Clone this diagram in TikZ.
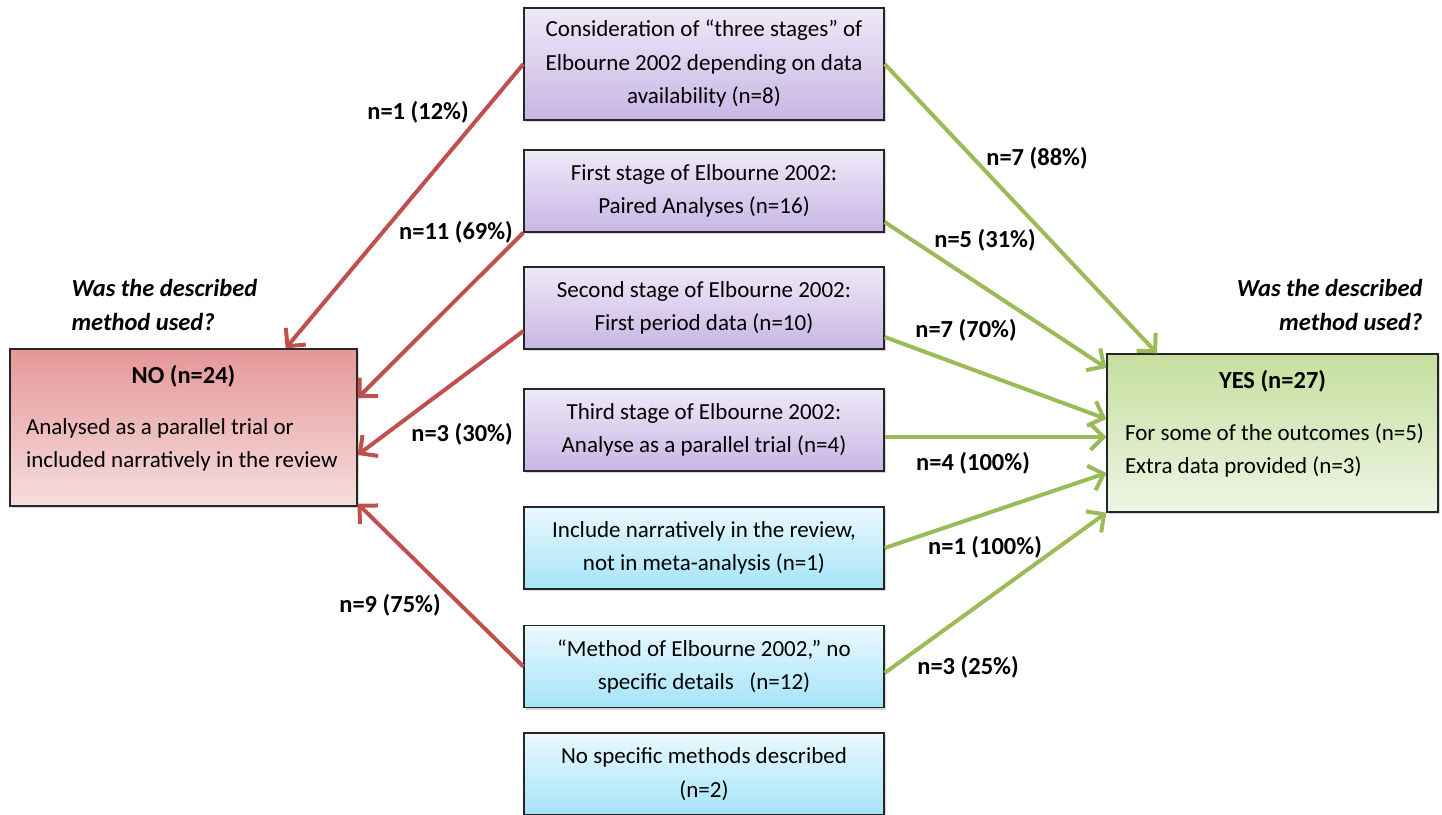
\documentclass[tikz,border=0pt]{standalone}
\usepackage{fontspec}
\setmainfont{Carlito}
\usetikzlibrary{arrows.meta,shadows}

\definecolor{noarrow}{HTML}{C0504D}
\definecolor{yesarrow}{HTML}{9BBB59}
\definecolor{purptop}{RGB}{238,233,247}
\definecolor{purpbot}{RGB}{200,182,228}
\definecolor{bluetop}{RGB}{234,249,254}
\definecolor{bluebot}{RGB}{164,228,248}
\definecolor{notop}{RGB}{229,151,152}
\definecolor{nobot}{RGB}{246,222,222}
\definecolor{yestop}{RGB}{197,223,158}
\definecolor{yesbot}{RGB}{238,245,229}

\tikzset{
  anybox/.style={draw=black!85, line width=1.3pt, inner sep=0pt,
    font=\fontsize{23}{33.5}\selectfont,
    drop shadow={shadow xshift=2pt, shadow yshift=-2pt, opacity=0.3}},
  stagebox/.style={anybox, minimum width=360pt, minimum height=82pt, align=center,
    top color=purptop, bottom color=purpbot},
  otherbox/.style={anybox, minimum width=360pt, minimum height=82pt, align=center,
    top color=bluetop, bottom color=bluebot},
  nobox/.style={anybox, minimum width=347pt, minimum height=157pt,
    top color=notop, bottom color=nobot},
  yesbox/.style={anybox, minimum width=331pt, minimum height=158pt,
    top color=yestop, bottom color=yesbot},
  noline/.style={draw=noarrow, line width=4pt, -{Straight Barb[length=13pt,width=26pt]}},
  yesline/.style={draw=yesarrow, line width=4pt, -{Straight Barb[length=13pt,width=26pt]}},
  count/.style={font=\fontsize{24.5}{28}\selectfont\bfseries},
  question/.style={font=\fontsize{24.5}{34}\selectfont\bfseries\itshape}
}

\begin{document}
\begin{tikzpicture}[x=1pt,y=-1pt]
\useasboundingbox (0,0) rectangle (1442,814);

% middle column
\node (cons)   [stagebox, minimum height=112pt] at (704,64)
  {Consideration of “three stages” of\\Elbourne 2002 depending on data\\availability (n=8)};
\node (first)  [stagebox] at (704,191) {First stage of Elbourne 2002:\\Paired Analyses (n=16)};
\node (second) [stagebox] at (704,308) {Second stage of Elbourne 2002:\\First period data (n=10)};
\node (third)  [stagebox] at (704,430) {Third stage of Elbourne 2002:\\Analyse as a parallel trial (n=4)};
\node (incl)   [otherbox] at (704,548) {Include narratively in the review,\\not in meta-analysis (n=1)};
\node (meth)   [otherbox] at (704,666.5) {“Method of Elbourne 2002,” no\\specific details~~~(n=12)};
\node (nospec) [otherbox] at (704,774) {No specific methods described\\(n=2)};

% outcome boxes
\node (no)  [nobox] at (183.5,427.5) {\parbox[c][157pt][t]{315pt}{\centering
  \rule{0pt}{34pt}{\fontsize{24.5}{33.5}\selectfont\bfseries NO (n=24)}\par\vspace{17.5pt}\raggedright
  \mbox{Analysed as a parallel trial or}\\\mbox{included narratively in the review}}};
\node (yes) [yesbox] at (1272.5,433) {\parbox[c][158pt][t]{295pt}{\centering
  \rule{0pt}{34pt}{\fontsize{24.5}{33.5}\selectfont\bfseries YES (n=27)}\par\vspace{18.5pt}\raggedright
  \mbox{For some of the outcomes (n=5)}\\\mbox{Extra data provided (n=3)}}};

\node (qno)  [question, align=left, anchor=west] at (68,305) {Was the described\\method used?};
\node (qyes) [question, align=right, anchor=east] at (1426,305) {Was the described\\method used?};

% red arrows
\draw [noline] (cons.west) -- ([xshift=-72pt]no.north east);
\draw [noline] (first.south west) -- ([yshift=29.5pt]no.east);
\draw [noline] ([yshift=-23pt]second.west) -- ([yshift=-27.5pt]no.east);
\draw [noline] (meth.west) -- ([yshift=3pt]no.south east);

% green arrows
\draw [yesline] (cons.east) -- ([xshift=-115.5pt]yes.north);
\draw [yesline] ([yshift=-31pt]first.east) -- ([yshift=65pt]yes.west);
\draw [yesline] ([yshift=-29pt]second.east) -- ([yshift=14pt]yes.west);
\draw [yesline] ([yshift=-7pt]third.east) -- ([yshift=-4pt]yes.west);
\draw [yesline] (incl.east) -- ([yshift=-40pt]yes.west);
\draw [yesline] ([yshift=-6.5pt]meth.east) -- (yes.south west);

% counts
\node (c1)  [count] at (418,112) {n=1 (12\%)};
\node (c2)  [count] at (456,232) {n=11 (69\%)};
\node (c3)  [count] at (462,434) {n=3 (30\%)};
\node (c4)  [count] at (390,605) {n=9 (75\%)};
\node (c5)  [count] at (1037,158) {n=7 (88\%)};
\node (c6)  [count] at (985,240) {n=5 (31\%)};
\node (c7)  [count] at (966,330) {n=7 (70\%)};
\node (c8)  [count] at (973,463) {n=4 (100\%)};
\node (c9)  [count] at (985,547) {n=1 (100\%)};
\node (c10) [count] at (968,667) {n=3 (25\%)};
\end{tikzpicture}
\end{document}
